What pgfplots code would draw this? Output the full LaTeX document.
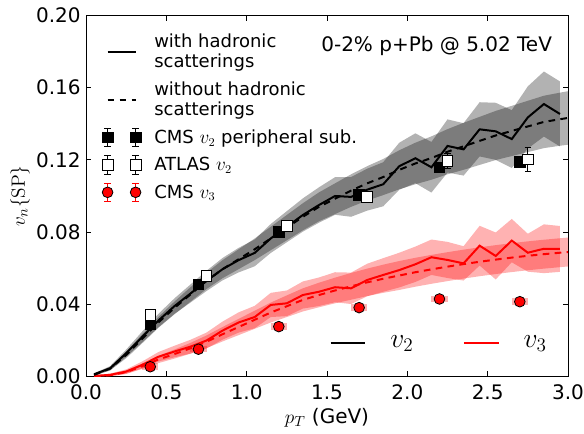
\documentclass[border=0pt]{standalone}
\usepackage[no-math]{fontspec}
\setmainfont{DejaVu Sans}
\usepackage{pgfplots}
\usepackage{pgfplotstable}
\pgfplotsset{compat=1.18}
\usepgfplotslibrary{fillbetween}

% v2 with hadronic scatterings: pT, value, band half-width
\pgfplotstableread{
x y e
0.05 0.0013 0.0006
0.15 0.0046 0.0012
0.25 0.0130 0.0020
0.35 0.0220 0.0030
0.45 0.0310 0.0037
0.55 0.0390 0.0043
0.65 0.0460 0.0050
0.75 0.0530 0.0056
0.85 0.0595 0.0062
0.95 0.0645 0.0068
1.05 0.0685 0.0074
1.15 0.0765 0.0080
1.25 0.0830 0.0086
1.35 0.0895 0.0092
1.45 0.0950 0.0098
1.55 0.1000 0.0104
1.65 0.0995 0.0110
1.75 0.1035 0.0116
1.85 0.1065 0.0122
1.95 0.1165 0.0130
2.05 0.1209 0.0138
2.15 0.1159 0.0140
2.25 0.1277 0.0147
2.35 0.1258 0.0145
2.45 0.1369 0.0150
2.55 0.1358 0.0158
2.65 0.1315 0.0160
2.75 0.1435 0.0172
2.85 0.1509 0.0180
2.95 0.1454 0.0180
}\vtwowith

% v2 without hadronic scatterings
\pgfplotstableread{
x y e
0.05 0.0010 0.0005
0.15 0.0045 0.0010
0.25 0.0120 0.0018
0.35 0.0210 0.0025
0.45 0.0300 0.0030
0.55 0.0380 0.0035
0.65 0.0455 0.0040
0.75 0.0530 0.0045
0.85 0.0595 0.0050
0.95 0.0650 0.0055
1.05 0.0705 0.0060
1.15 0.0765 0.0065
1.25 0.0825 0.0070
1.35 0.0885 0.0075
1.45 0.0940 0.0080
1.55 0.0985 0.0085
1.65 0.1030 0.0090
1.75 0.1070 0.0095
1.85 0.1105 0.0100
1.95 0.1145 0.0108
2.05 0.1180 0.0115
2.15 0.1210 0.0120
2.25 0.1245 0.0125
2.35 0.1275 0.0130
2.45 0.1305 0.0133
2.55 0.1335 0.0136
2.65 0.1360 0.0139
2.75 0.1385 0.0142
2.85 0.1410 0.0145
2.95 0.1425 0.0147
3.00 0.1432 0.0148
}\vtwowo

% v3 with hadronic scatterings
\pgfplotstableread{
x y e
0.05 0.0004 0.0003
0.15 0.0010 0.0007
0.25 0.0028 0.0012
0.35 0.0065 0.0019
0.45 0.0110 0.0026
0.55 0.0139 0.0032
0.65 0.0166 0.0038
0.75 0.0200 0.0044
0.85 0.0255 0.0050
0.95 0.0300 0.0056
1.05 0.0330 0.0062
1.15 0.0397 0.0067
1.25 0.0406 0.0071
1.35 0.0452 0.0075
1.45 0.0470 0.0079
1.55 0.0495 0.0083
1.65 0.0489 0.0087
1.75 0.0535 0.0090
1.85 0.0563 0.0093
1.95 0.0590 0.0096
2.05 0.0622 0.0098
2.15 0.0661 0.0098
2.25 0.0646 0.0100
2.35 0.0627 0.0095
2.45 0.0725 0.0110
2.55 0.0668 0.0130
2.65 0.0753 0.0120
2.75 0.0686 0.0105
2.85 0.0708 0.0135
2.95 0.0707 0.0127
}\vthreewith

% v3 without hadronic scatterings
\pgfplotstableread{
x y e
0.05 0.0003 0.0003
0.15 0.0008 0.0006
0.25 0.0025 0.0010
0.35 0.0058 0.0015
0.45 0.0095 0.0020
0.55 0.0125 0.0025
0.65 0.0157 0.0030
0.75 0.0193 0.0035
0.85 0.0235 0.0040
0.95 0.0275 0.0045
1.05 0.0315 0.0050
1.15 0.0355 0.0055
1.25 0.0390 0.0060
1.35 0.0425 0.0064
1.45 0.0452 0.0068
1.55 0.0477 0.0071
1.65 0.0500 0.0074
1.75 0.0522 0.0076
1.85 0.0542 0.0078
1.95 0.0560 0.0080
2.05 0.0578 0.0080
2.15 0.0594 0.0080
2.25 0.0609 0.0080
2.35 0.0623 0.0080
2.45 0.0636 0.0080
2.55 0.0648 0.0080
2.65 0.0659 0.0080
2.75 0.0669 0.0080
2.85 0.0678 0.0080
2.95 0.0686 0.0080
3.00 0.0690 0.0080
}\vthreewo

% data points
\pgfplotstableread{
x y e
0.40 0.0292 0.0015
0.70 0.0511 0.0015
1.20 0.0802 0.0015
1.70 0.1006 0.0015
2.20 0.1159 0.0020
2.70 0.1190 0.0030
}\cmsvtwo
\pgfplotstableread{
x y e
0.40 0.0342 0.0015
0.75 0.0559 0.0015
1.25 0.0834 0.0020
1.75 0.0996 0.0020
2.25 0.1194 0.0040
2.75 0.1203 0.0067
}\atlasvtwo
\pgfplotstableread{
x y e
0.40 0.0055 0.0005
0.70 0.0152 0.0005
1.20 0.0277 0.0007
1.70 0.0382 0.0008
2.20 0.0430 0.0010
2.70 0.0415 0.0010
}\cmsvthree

\pgfplotsset{
  errleg/.style={legend image code/.code={
    \draw[#1, line width=0.6pt]
      (0pt,-7pt)--(0pt,7pt) (-2.5pt,-7pt)--(2.5pt,-7pt) (-2.5pt,7pt)--(2.5pt,7pt)
      (21pt,-7pt)--(21pt,7pt) (18.5pt,-7pt)--(23.5pt,-7pt) (18.5pt,7pt)--(23.5pt,7pt);
    \draw[##1] plot coordinates {(0pt,0pt) (21pt,0pt)};}},
  band/.style={draw=none, forget plot},
}

\begin{document}
\begin{tikzpicture}
\begin{axis}[
  scale only axis, width=361.5pt, height=271pt,
  xmin=0, xmax=3, ymin=0, ymax=0.2,
  xtick={0,0.5,1,1.5,2,2.5,3},
  ytick={0,0.04,0.08,0.12,0.16,0.20},
  tick align=inside, major tick length=4pt,
  xtick pos=both, ytick pos=both,
  axis line style={line width=0.7pt},
  tick style={line width=0.6pt, black},
  tick label style={font=\fontsize{15}{17}\selectfont},
  /pgf/number format/assume math mode=true,
  xticklabel style={yshift=-2.5pt, /pgf/number format/.cd, fixed, fixed zerofill, precision=1},
  yticklabel style={xshift=-0.5pt, /pgf/number format/.cd, fixed, fixed zerofill, precision=2},
  scaled y ticks=false,
  xlabel={$p_T$ (GeV)},
  ylabel={$v_n\{\mathrm{SP}\}$},
  label style={font=\fontsize{15}{17}\selectfont},
  xlabel style={at={(rel axis cs:0.5,0)}, anchor=base, yshift=-35pt},
  ylabel style={at={(rel axis cs:-0.137,0.5)}, anchor=center},
  legend style={draw=none, fill=none, inner sep=0pt,
    at={(rel axis cs:0,1)}, anchor=north west, xshift=12pt, yshift=-12pt,
    font=\fontsize{13.5}{15}\selectfont,
    nodes={align=left, inner sep=2pt},
    row sep=5pt,
    /tikz/every odd column/.append style={column sep=8pt}},
  legend cell align=left,
  legend image code/.code={\draw[#1] (0pt,0pt)--(21pt,0pt);},
]
% bands
\addplot[band, name path=a1] table[x=x, y expr=\thisrow{y}+\thisrow{e}] {\vtwowith};
\addplot[band, name path=a2] table[x=x, y expr=\thisrow{y}-\thisrow{e}] {\vtwowith};
\addplot[fill=black, fill opacity=0.3, draw=none, forget plot] fill between[of=a1 and a2];
\addplot[band, name path=b1] table[x=x, y expr=\thisrow{y}+\thisrow{e}] {\vtwowo};
\addplot[band, name path=b2] table[x=x, y expr=\thisrow{y}-\thisrow{e}] {\vtwowo};
\addplot[fill=black, fill opacity=0.3, draw=none, forget plot] fill between[of=b1 and b2];
\addplot[band, name path=c1] table[x=x, y expr=\thisrow{y}+\thisrow{e}] {\vthreewith};
\addplot[band, name path=c2] table[x=x, y expr=\thisrow{y}-\thisrow{e}] {\vthreewith};
\addplot[fill=red, fill opacity=0.3, draw=none, forget plot] fill between[of=c1 and c2];
\addplot[band, name path=d1] table[x=x, y expr=\thisrow{y}+\thisrow{e}] {\vthreewo};
\addplot[band, name path=d2] table[x=x, y expr=\thisrow{y}-\thisrow{e}] {\vthreewo};
\addplot[fill=red, fill opacity=0.3, draw=none, forget plot] fill between[of=d1 and d2];

% systematic boxes CMS v3
\addplot[fill=red, fill opacity=0.3, draw=none, forget plot] coordinates {(0.35,0.0037)(0.45,0.0037)(0.45,0.0073)(0.35,0.0073)} --cycle;
\addplot[fill=red, fill opacity=0.3, draw=none, forget plot] coordinates {(0.65,0.0134)(0.75,0.0134)(0.75,0.0170)(0.65,0.0170)} --cycle;
\addplot[fill=red, fill opacity=0.3, draw=none, forget plot] coordinates {(1.15,0.0259)(1.25,0.0259)(1.25,0.0295)(1.15,0.0295)} --cycle;
\addplot[fill=red, fill opacity=0.3, draw=none, forget plot] coordinates {(1.65,0.0364)(1.75,0.0364)(1.75,0.0400)(1.65,0.0400)} --cycle;
\addplot[fill=red, fill opacity=0.3, draw=none, forget plot] coordinates {(2.15,0.0412)(2.25,0.0412)(2.25,0.0448)(2.15,0.0448)} --cycle;
\addplot[fill=red, fill opacity=0.3, draw=none, forget plot] coordinates {(2.65,0.0397)(2.75,0.0397)(2.75,0.0433)(2.65,0.0433)} --cycle;

% lines
\addplot[red, line width=1.5pt, forget plot] table[x=x, y=y] {\vthreewith};
\addplot[red, line width=1.5pt, dash pattern=on 5pt off 4pt, forget plot] table[x=x, y=y] {\vthreewo};
\addplot[black, line width=1.5pt] table[x=x, y=y] {\vtwowith};
\addlegendentry{with hadronic\\scatterings}
\addplot[black, line width=1.5pt, dash pattern=on 5pt off 4pt] table[x=x, y=y] {\vtwowo};
\addlegendentry{without hadronic\\scatterings}

% data
\addplot[only marks, mark=square*, mark size=4pt,
  mark options={fill=black, draw=black, line width=0.6pt}, errleg=black,
  error bars/.cd, y dir=both, y explicit,
  error bar style={black, line width=0.6pt},
  error mark options={rotate=90, mark size=2.5pt, black, line width=0.6pt}]
  table[x=x, y=y, y error=e] {\cmsvtwo};
\addlegendentry{CMS $v_2$ peripheral sub.}
\addplot[only marks, mark=square*, mark size=4pt,
  mark options={fill=white, draw=black, line width=0.6pt}, errleg=black,
  error bars/.cd, y dir=both, y explicit,
  error bar style={black, line width=0.6pt},
  error mark options={rotate=90, mark size=2.5pt, black, line width=0.6pt}]
  table[x=x, y=y, y error=e] {\atlasvtwo};
\addlegendentry{ATLAS $v_2$}
\addplot[only marks, mark=*, mark size=4pt,
  mark options={fill=red, draw=black, line width=0.6pt}, errleg=red,
  error bars/.cd, y dir=both, y explicit,
  error bar style={red, line width=0.6pt},
  error mark options={rotate=90, mark size=2.5pt, red, line width=0.6pt}]
  table[x=x, y=y, y error=e] {\cmsvthree};
\addlegendentry{CMS $v_3$}

\node[anchor=base east, font=\fontsize{15}{17}\selectfont] at (rel axis cs:0.9765,0.899) {0-2\% p+Pb @ 5.02 TeV};
\end{axis}

\begin{axis}[
  scale only axis, width=361.5pt, height=271pt,
  xmin=0, xmax=3, ymin=0, ymax=0.2, hide axis,
  legend columns=2,
  legend style={draw=none, fill=none, inner sep=0pt,
    at={(rel axis cs:0.505,0.094)}, anchor=west,
    font=\fontsize{20}{24}\selectfont,
    nodes={inner sep=2pt},
    /tikz/every odd column/.append style={column sep=16pt},
    /tikz/every even column/.append style={column sep=35pt}},
  legend image code/.code={\draw[#1] (0pt,0pt)--(26pt,0pt);},
]
\addlegendimage{black, line width=1.5pt}
\addlegendentry{$v_2$}
\addlegendimage{red, line width=1.5pt}
\addlegendentry{$v_3$}
\end{axis}
\pgfresetboundingbox
\path[use as bounding box] ([xshift=-64.5pt, yshift=-43pt]current axis.south west) rectangle ([xshift=12pt, yshift=11.5pt]current axis.north east);
\end{tikzpicture}
\end{document}
